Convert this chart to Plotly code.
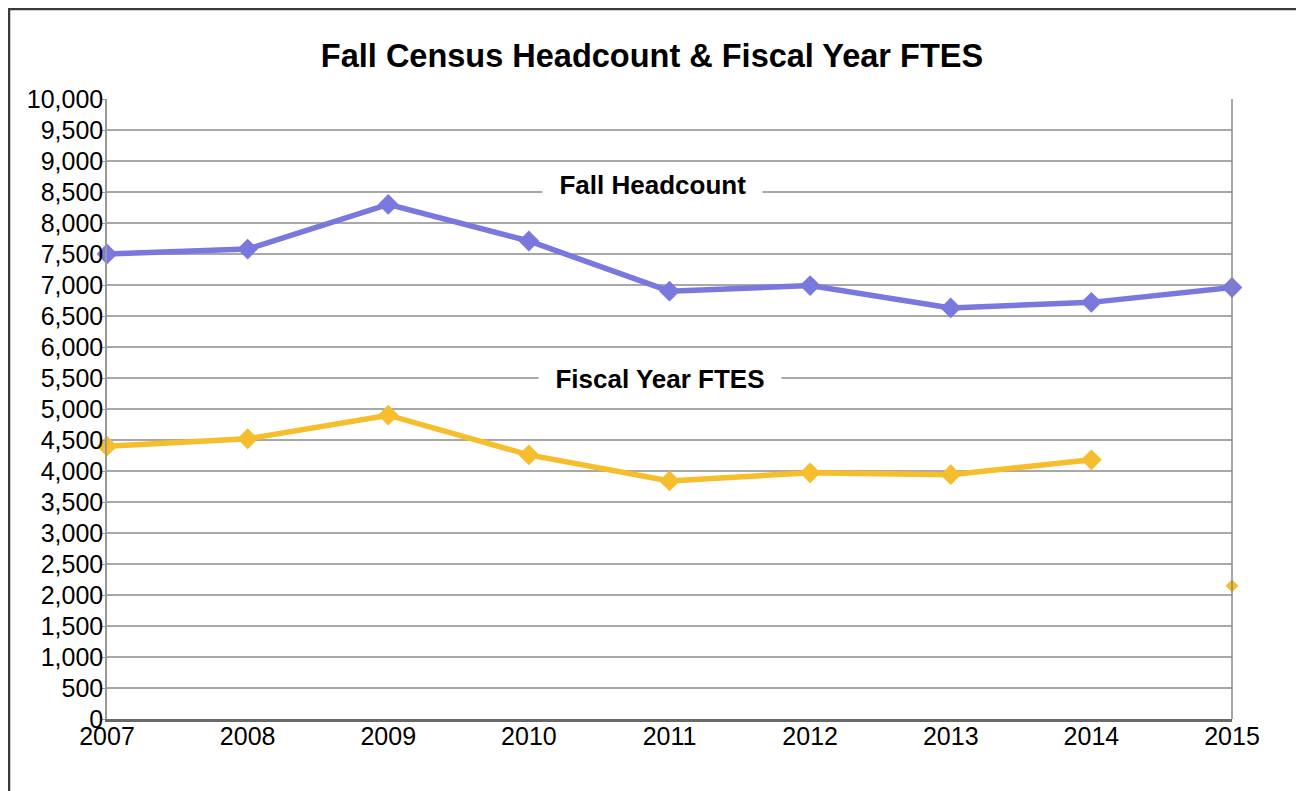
import plotly.graph_objects as go

years = [2007, 2008, 2009, 2010, 2011, 2012, 2013, 2014, 2015]
headcount = [7500, 7580, 8300, 7710, 6900, 6990, 6630, 6720, 6960]
ftes = [4400, 4520, 4900, 4260, 3840, 3970, 3940, 4180, 2150]
y_ticks = list(range(0, 10001, 500))
y_tick_labels = [f"{v:,}" for v in y_ticks]

HC_COLOR = "#7878DE"
FT_COLOR = "#F6BD2C"

W, H = 1296, 783
L, R, T, B = 99, 72, 91, 72
PW, PH = W - L - R, H - T - B

fig = go.Figure()
fig.add_trace(go.Scatter(
    x=years, y=headcount, mode="lines+markers", name="Fall Headcount",
    line=dict(color=HC_COLOR, width=5.5),
    marker=dict(symbol="diamond", size=16, color=HC_COLOR),
    cliponaxis=False,
))
fig.add_trace(go.Scatter(
    x=years[:-1], y=ftes[:-1], mode="lines+markers", name="Fiscal Year FTES",
    line=dict(color=FT_COLOR, width=5.5),
    marker=dict(symbol="diamond", size=16, color=FT_COLOR),
    cliponaxis=False,
))
fig.add_trace(go.Scatter(
    x=years[-1:], y=ftes[-1:], mode="markers", showlegend=False,
    marker=dict(symbol="diamond", size=10, color=FT_COLOR),
    cliponaxis=False,
))

font_family = "Liberation Sans, Arial, sans-serif"

fig.update_layout(
    width=W, height=H,
    margin=dict(l=L, r=R, t=T, b=B),
    paper_bgcolor="white", plot_bgcolor="white",
    showlegend=False,
    font=dict(family=font_family, size=25, color="black"),
    title=dict(
        text="<b>Fall Census Headcount & Fiscal Year FTES</b>",
        x=644 / W, xref="container", xanchor="center",
        y=1 - 48 / H, yref="container", yanchor="middle",
        font=dict(size=32.5, family=font_family, color="black"),
    ),
    xaxis=dict(
        range=[2007, 2015], tickmode="array", tickvals=years,
        ticktext=[str(y) for y in years],
        showgrid=False, zeroline=False,
        showline=True, linecolor="#6a6a6a", linewidth=3,
        mirror=False, ticks="", ticklabelstandoff=-7,
        tickfont=dict(size=25, family=font_family, color="black"),
    ),
    yaxis=dict(
        range=[0, 10000], tickmode="array", tickvals=y_ticks,
        ticktext=y_tick_labels,
        showgrid=True, gridcolor="#a8a8a8", gridwidth=1.5,
        zeroline=False, showline=True, linecolor="#999999", linewidth=1.5,
        ticks="outside", ticklen=3, tickcolor="#999999",
        ticklabelstandoff=-6,
        tickfont=dict(size=25, family=font_family, color="black"),
    ),
    shapes=[
        dict(type="line", xref="paper", yref="paper", x0=1, x1=1, y0=0, y1=1,
             line=dict(color="#8a8a8a", width=1.5)),
        dict(type="rect", xref="paper", yref="paper",
             x0=(1 - L) / PW, x1=(1292 - L) / PW,
             y0=(T + PH - 800) / PH, y1=(T + PH - 1) / PH,
             line=dict(color="#3a3a3a", width=2.5), fillcolor="rgba(0,0,0,0)",
             layer="above"),
    ],
    annotations=[
        dict(text="&nbsp;&nbsp;<b>Fall Headcount</b>&nbsp;&nbsp;",
             x=2010.88, y=8613, xref="x", yref="y",
             showarrow=False, bgcolor="white", borderpad=2,
             font=dict(size=26, family=font_family, color="black")),
        dict(text="&nbsp;&nbsp;<b>Fiscal Year FTES</b>&nbsp;&nbsp;",
             x=2010.93, y=5484, xref="x", yref="y",
             showarrow=False, bgcolor="white", borderpad=2,
             font=dict(size=26, family=font_family, color="black")),
    ],
)

fig.write_html("out.html")
